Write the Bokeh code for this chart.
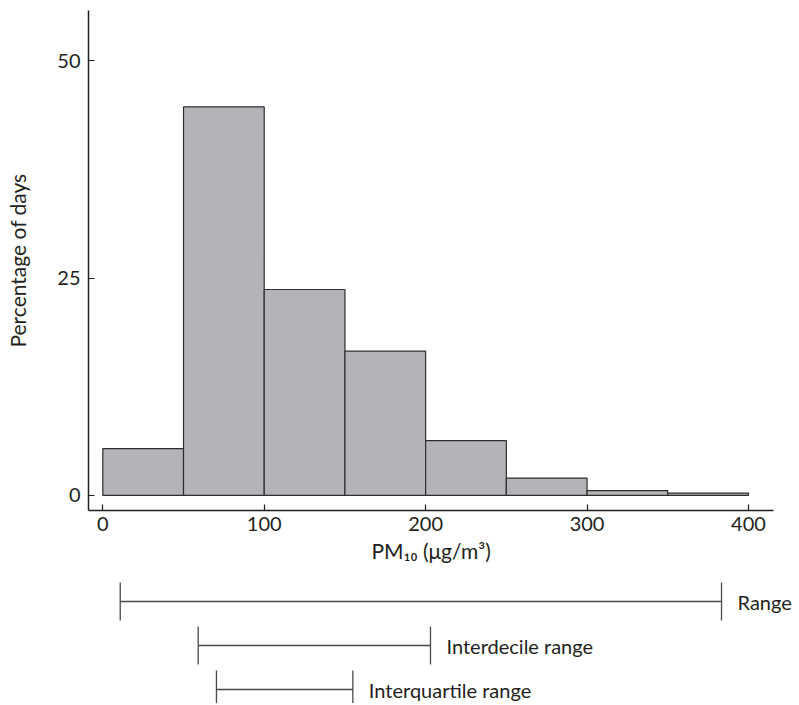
from bokeh.plotting import figure
from bokeh.models import Range1d, FixedTicker, ColumnDataSource
from bokeh.layouts import column
from bokeh.embed import file_html
from bokeh.resources import INLINE
from bokeh.core.properties import value

# ---- data ----
bin_left = [0, 50, 100, 150, 200, 250, 300, 350]
bin_right = [50, 100, 150, 200, 250, 300, 350, 400]
pct_days = [5.4, 44.7, 23.7, 16.6, 6.3, 2.0, 0.55, 0.27]
y_ticks = [0, 25, 50]
x_ticks = [0, 100, 200, 300, 400]

stat_names = ["Range", "Interdecile range", "Interquartile range"]
stat_low = [10.8, 59.1, 70.4]
stat_high = [383.3, 203.0, 154.9]

FONT = "Lato"
INK = "#231f20"
W = 797
LEFT = 88
FRAME_W = 685

x0, x1 = -8.86, 415.5
x_range = Range1d(x0, x1)

# ---- histogram ----
p = figure(width=W, height=575, x_range=x_range, y_range=Range1d(-1.73, 55.8),
           output_backend="svg", toolbar_location=None,
           min_border_left=LEFT, min_border_right=W - LEFT - FRAME_W,
           min_border_top=10, min_border_bottom=65)
p.frame_align = False
p.quad(left=bin_left, right=bin_right, bottom=0, top=pct_days,
       fill_color="#b3b4b8", line_color="#2e2e2e", line_width=1.2)

p.grid.visible = False
p.outline_line_color = None
for ax in (p.xaxis, p.yaxis):
    ax.axis_line_color = INK
    ax.axis_line_width = 1.5
    ax.major_tick_line_color = INK
    ax.major_tick_line_width = 1.2
    ax.major_tick_in = 6
    ax.major_tick_out = 0
    ax.minor_tick_line_color = None
    ax.major_label_text_font = FONT
    ax.major_label_text_font_size = "20px"
    ax.major_label_text_color = INK
    ax.axis_label_text_font = FONT
    ax.axis_label_text_font_size = "21px"
    ax.axis_label_text_font_style = "normal"
    ax.axis_label_text_color = INK
p.xaxis.ticker = FixedTicker(ticks=x_ticks)
p.yaxis.ticker = FixedTicker(ticks=y_ticks)
p.xaxis.major_label_standoff = 6
p.yaxis.major_label_standoff = 8
p.yaxis.axis_label = "Percentage of days"
p.yaxis.axis_label_standoff = 24
p.xaxis.axis_label = "PM\u2081\u2080 (\u03bcg/m\u00b3)"
p.xaxis.axis_label_standoff = 4

# ---- lower panel: range bars (same x scale, frame extended to the right) ----
lower_w = W - LEFT
x_range2 = Range1d(x0, x0 + (x1 - x0) * lower_w / FRAME_W)
q = figure(width=W, height=128, x_range=x_range2, y_range=Range1d(-2.318, 0.591),
           output_backend="svg", toolbar_location=None,
           min_border_left=LEFT, min_border_right=0, min_border_top=0, min_border_bottom=0)
q.frame_align = False
q.axis.visible = False
q.grid.visible = False
q.outline_line_color = None

rows = [-i for i in range(len(stat_names))]
cap = 0.43
src = ColumnDataSource(dict(lo=stat_low, hi=stat_high, y=rows,
                            y0=[r - cap for r in rows], y1=[r + cap for r in rows],
                            name=stat_names))
lc = "#4a4a4a"
q.segment(x0="lo", x1="hi", y0="y", y1="y", source=src, line_color=lc, line_width=1.3)
q.segment(x0="lo", x1="lo", y0="y0", y1="y1", source=src, line_color=lc, line_width=1.3)
q.segment(x0="hi", x1="hi", y0="y0", y1="y1", source=src, line_color=lc, line_width=1.3)
q.text(x="hi", y="y", text="name", source=src, x_offset=16, text_baseline="middle",
       text_font=value(FONT), text_font_size="20px", text_color=INK)

layout = column(p, q, spacing=0)
open("out.html", "w").write(file_html(layout, INLINE))
